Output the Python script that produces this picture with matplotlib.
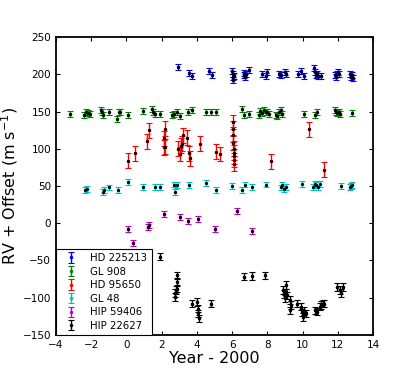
import matplotlib.pyplot as plt

# HD 225213 (offset ~200)
hd225213_x = [2.9, 3.57, 3.74, 4.67, 4.84, 6.0, 6.02, 6.04, 6.06, 6.08, 6.65, 6.7, 6.75, 6.8, 6.97,
              7.72, 7.9, 7.95, 8.65, 8.79, 9.0, 9.08, 9.74, 9.93, 10.06, 10.65, 10.7, 10.77, 10.84, 10.9,
              11.03, 11.83, 11.9, 11.96, 12.0, 12.05, 12.67, 12.72, 12.78, 12.84]
hd225213_y = [210, 202, 198, 204, 199, 204, 200, 196, 193, 198, 199, 202, 197, 200, 206,
              201, 198, 203, 201, 199, 203, 201, 200, 204, 198, 208, 203, 199, 201, 198,
              198, 199, 196, 201, 203, 200, 201, 197, 199, 195]
hd225213_err = 4

# GL 908 (offset ~150)
gl908_x = [-3.2, -2.4, -2.3, -2.2, -2.05, -1.44, -1.37, -1.31, -1.0, -0.54, -0.45, -0.34, 0.06, 0.94,
           1.46, 1.5, 1.61, 1.93, 2.58, 2.7, 2.86, 3.05, 3.52, 3.74, 4.5, 4.82, 5.1, 6.54, 6.69, 6.97,
           7.5, 7.6, 7.7, 7.8, 7.9, 8.0, 8.08, 8.47, 8.55, 8.65, 8.75, 8.85, 10.06, 10.71, 10.8,
           11.83, 11.9, 11.97, 12.05, 12.1, 12.83]
gl908_y = [147, 146, 150, 148, 147, 152, 149, 146, 150, 140, 150, 149, 145, 151,
           154, 150, 147, 147, 146, 147, 149, 144, 149, 152, 149, 149, 150, 154, 146, 147,
           145, 151, 148, 152, 149, 150, 147, 146, 144, 149, 152, 147, 147, 146, 150,
           152, 150, 148, 149, 147, 148]
gl908_err = 4

# HD 95650 (offset ~100)
hd95650_x = [0.11, 0.47, 1.18, 1.27, 2.11, 2.14, 2.17, 2.2, 2.9, 3.05, 3.08, 3.18, 3.23, 3.46, 3.55,
             3.58, 4.2, 5.1, 5.33, 6.04, 6.05, 6.06, 6.07, 6.08, 6.08, 6.09, 6.1, 6.1, 8.22, 10.34, 11.21]
hd95650_y = [84, 94, 110, 125, 102, 114, 127, 103, 100, 93, 104, 107, 118, 115, 94,
             87, 107, 96, 93, 136, 127, 119, 108, 100, 95, 90, 85, 80, 83, 126, 72]
hd95650_err = 10

# GL 48 (offset ~50)
gl48_x = [-2.37, -2.24, -1.35, -1.25, -1.01, -0.47, 0.11, 0.94, 1.61, 1.93, 2.67, 2.75, 2.86, 3.55,
          4.54, 5.1, 6.0, 6.54, 6.73, 7.1, 7.92, 8.75, 8.85, 8.95, 9.03, 9.97, 10.6, 10.7, 10.78,
          10.85, 10.99, 12.2, 12.67, 12.75, 12.83]
gl48_y = [44, 46, 42, 44, 48, 44, 56, 49, 49, 49, 52, 42, 51, 51,
          54, 45, 50, 45, 52, 49, 52, 48, 52, 46, 49, 53, 49, 53, 51,
          48, 53, 50, 49, 50, 51]
gl48_err = 4

# HIP 59406 (offset ~0)
hip59406_x = [0.11, 0.37, 1.21, 1.3, 2.11, 3.05, 3.48, 4.04, 5.01, 6.28, 7.1]
hip59406_y = [-8, -26, -5, -3, 12, 8, 3, 6, -8, 17, -11]
hip59406_err = 4

# HIP 22627 (offset ~-100)
hip22627_x = [0.95, 1.01, 1.93, 2.73, 2.78, 2.82, 2.84, 2.86, 2.88, 3.74, 4.02, 4.05, 4.07, 4.1, 4.82,
              6.69, 7.1, 7.85, 8.9, 8.95, 9.0, 9.05, 9.08, 9.12, 9.27, 9.3, 9.35, 9.68, 9.93, 9.97,
              10.01, 10.06, 10.2, 10.71, 10.84, 10.99, 11.06, 11.14, 11.23, 11.93, 12.1, 12.2, 12.3]
hip22627_y = [-63, -68, -45, -94, -99, -90, -79, -70, -88, -108, -106, -115, -121, -128, -108,
              -72, -71, -70, -90, -95, -101, -93, -83, -97, -103, -117, -110, -108, -112, -120,
              -126, -118, -121, -117, -119, -112, -110, -108, -108, -86, -90, -94, -86]
hip22627_err = 5

series = [
    ('HD 225213', hd225213_x, hd225213_y, hd225213_err, 'b'),
    ('GL 908', gl908_x, gl908_y, gl908_err, 'g'),
    ('HD 95650', hd95650_x, hd95650_y, hd95650_err, 'r'),
    ('GL 48', gl48_x, gl48_y, gl48_err, 'c'),
    ('HIP 59406', hip59406_x, hip59406_y, hip59406_err, 'm'),
    ('HIP 22627', hip22627_x, hip22627_y, hip22627_err, 'k'),
]

fig = plt.figure(figsize=(4.15, 3.72), dpi=100)
ax = fig.add_axes([0.135, 0.1, 0.764, 0.8])

for name, xs, ys, err, c in series:
    eb = ax.errorbar(xs, ys, yerr=err, fmt='.', color=c, ms=3, elinewidth=1.0,
                     capsize=2.2, capthick=0.8, label=name)
    for cap in eb[1]:
        cap.set_color('0.45')
    # dark points drawn over the coloured bars
    ax.plot(xs, ys, '.', color='k', ms=2.5, zorder=3)

ax.set_xlim(-4, 14)
ax.set_ylim(-150, 250)
ax.set_xticks(range(-4, 15, 2))
ax.set_yticks(range(-150, 251, 50))
ax.tick_params(direction='in', top=True, right=True, labelsize=7.5, length=3)
for s in ax.spines.values():
    s.set_linewidth(1.3)

ax.set_xlabel('Year - 2000', fontsize=11.5, labelpad=1)
ax.set_ylabel('RV + Offset (m s$^{-1}$)', fontsize=11.5, labelpad=2)

leg = ax.legend(loc='lower left', fontsize=7.3, numpoints=1, fancybox=False,
                framealpha=1, edgecolor='black', handlelength=2.2,
                borderaxespad=0.0, labelspacing=0.35, borderpad=0.4)
leg.get_frame().set_linewidth(0.8)

fig.savefig('out.png', dpi=100)
